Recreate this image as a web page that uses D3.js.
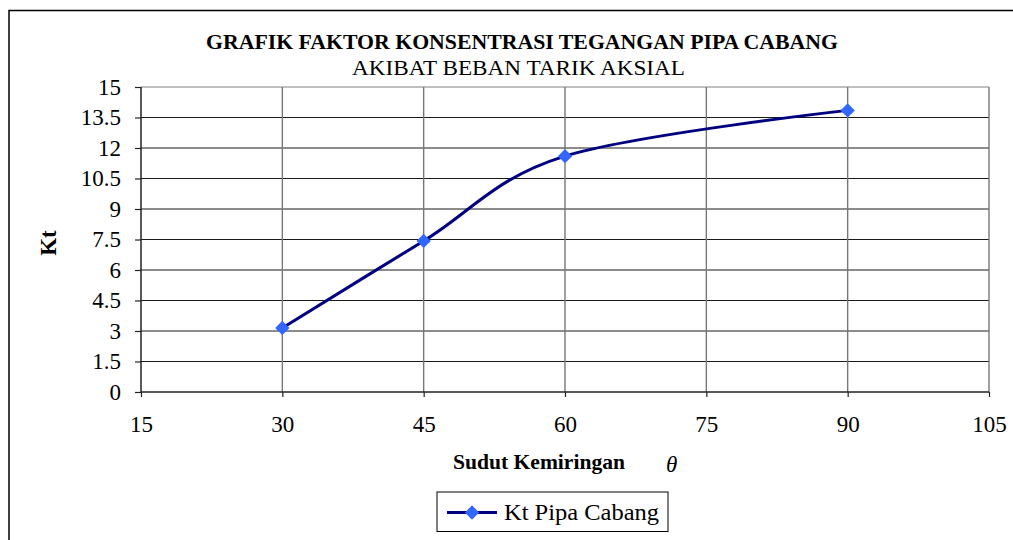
<!DOCTYPE html>
<html><head><meta charset="utf-8">
<script src="https://cdn.jsdelivr.net/npm/d3@7"></script>
<style>body{margin:0;background:#fff}svg{display:block}</style>
</head><body>
<script>
const sudut = [30, 45, 60, 90];
const ktValues = [3.15, 7.43, 11.6, 13.85];
const xTicks = [15, 30, 45, 60, 75, 90, 105];
const yTicks = [0, 1.5, 3, 4.5, 6, 7.5, 9, 10.5, 12, 13.5, 15];
const seriesName = "Kt Pipa Cabang";
const title = "GRAFIK FAKTOR KONSENTRASI TEGANGAN PIPA CABANG";
const subtitle = "AKIBAT BEBAN TARIK AKSIAL";

const W = 1013, H = 540;
const svg = d3.select("body").append("svg").attr("width", W).attr("height", H);
const serif = "'Liberation Serif','Times New Roman',serif";

// outer frame
svg.append("rect").attr("x", 9).attr("y", 10.5).attr("width", 1100).attr("height", 600)
  .attr("fill", "none").attr("stroke", "#000").attr("stroke-width", 1.5);

const L = 141, R = 989, T = 87, B = 392;
const x = d3.scaleLinear().domain([15, 105]).range([L, R]);
const y = d3.scaleLinear().domain([0, 15]).range([B, T]);

// horizontal gridlines
svg.append("g").selectAll("line").data(yTicks.filter(v => v > 0)).join("line")
  .attr("x1", L).attr("x2", R).attr("y1", d => y(d)).attr("y2", d => y(d))
  .attr("stroke", d => d === 15 ? "#808080" : "#1a1a1a").attr("stroke-width", 1.2);
// vertical gridlines
svg.append("g").selectAll("line").data(xTicks.filter(v => v > 15)).join("line")
  .attr("x1", d => x(d)).attr("x2", d => x(d)).attr("y1", T).attr("y2", B)
  .attr("stroke", "#777").attr("stroke-width", 1.4);

// axes
const yAxis = svg.append("g").attr("transform", `translate(${L},0)`)
  .call(d3.axisLeft(y).tickValues(yTicks).tickSize(6).tickPadding(14).tickFormat(d => d));
const xAxis = svg.append("g").attr("transform", `translate(0,${B})`)
  .call(d3.axisBottom(x).tickValues(xTicks).tickSize(5).tickPadding(19).tickFormat(d => d));
[yAxis, xAxis].forEach(a => {
  a.select(".domain").attr("stroke", "#222").attr("stroke-width", 1.5);
  a.selectAll(".tick line").attr("stroke", "#222").attr("stroke-width", 1.2);
  a.selectAll("text").attr("font-family", serif).attr("font-size", 23).attr("fill", "#000");
});
yAxis.select(".domain").attr("d", `M0,${B}V${T}`);
xAxis.select(".domain").attr("d", `M${L},0H${R}`);

// series line
const line = d3.line().x((d, i) => x(sudut[i])).y(d => y(d)).curve(d3.curveCardinal.tension(0));
svg.append("path").datum(ktValues).attr("d", line)
  .attr("fill", "none").attr("stroke", "#000080").attr("stroke-width", 3);
const diamond = d3.symbol().type(d3.symbolDiamond2).size(130);
svg.append("g").selectAll("path").data(ktValues).join("path")
  .attr("d", diamond).attr("transform", (d, i) => `translate(${x(sudut[i])},${y(d)})`)
  .attr("fill", "#3366FF");

// titles
svg.append("text").attr("x", 206).attr("y", 49).text(title)
  .attr("font-family", serif).attr("font-weight", "bold").attr("font-size", 22)
  .attr("textLength", 632).attr("lengthAdjust", "spacingAndGlyphs");
svg.append("text").attr("x", 352).attr("y", 75).text(subtitle)
  .attr("font-family", serif).attr("font-size", 21)
  .attr("textLength", 333).attr("lengthAdjust", "spacingAndGlyphs");

// axis titles
svg.append("text").attr("transform", "translate(56,243) rotate(-90)").attr("text-anchor", "middle")
  .text("Kt").attr("font-family", serif).attr("font-weight", "bold").attr("font-size", 23);
svg.append("text").attr("x", 453).attr("y", 469).text("Sudut Kemiringan")
  .attr("font-family", serif).attr("font-weight", "bold").attr("font-size", 21)
  .attr("textLength", 172).attr("lengthAdjust", "spacingAndGlyphs");
svg.append("text").attr("x", 666).attr("y", 472).text("θ")
  .attr("font-family", serif).attr("font-style", "italic").attr("font-size", 23);

// legend
const lg = svg.append("g");
lg.append("rect").attr("x", 437).attr("y", 492).attr("width", 231).attr("height", 39.5)
  .attr("fill", "#fff").attr("stroke", "#000").attr("stroke-width", 1);
lg.append("line").attr("x1", 447).attr("x2", 497).attr("y1", 512.5).attr("y2", 512.5)
  .attr("stroke", "#000080").attr("stroke-width", 3);
lg.append("path").attr("d", diamond).attr("transform", "translate(472,512.5)").attr("fill", "#3366FF");
lg.append("text").attr("x", 504).attr("y", 520).text(seriesName)
  .attr("font-family", serif).attr("font-size", 23)
  .attr("textLength", 155).attr("lengthAdjust", "spacingAndGlyphs");
</script>
</body></html>
